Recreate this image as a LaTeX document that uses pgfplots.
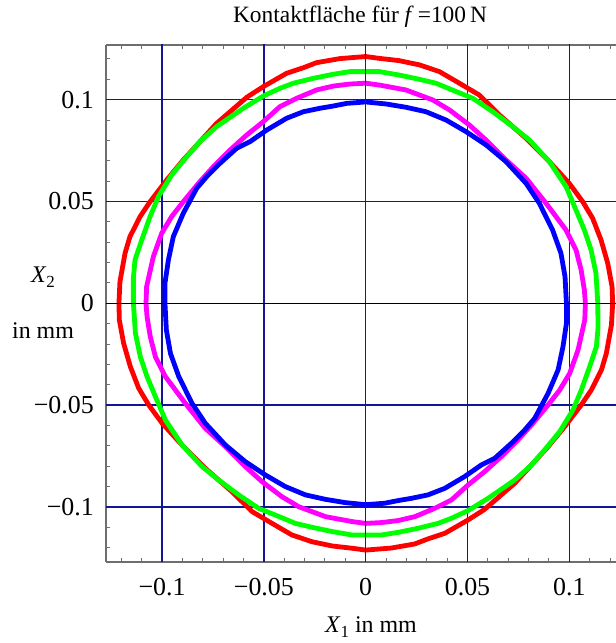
\documentclass[border=0pt]{standalone}
\usepackage{fontspec}
\setmainfont{Liberation Serif}
\usepackage{pgfplots}
\pgfplotsset{compat=1.18}
\definecolor{gridnavy}{RGB}{20,20,150}
\definecolor{framegray}{RGB}{110,110,110}
\definecolor{mred}{RGB}{255,0,0}
\definecolor{mgreen}{RGB}{0,255,0}
\definecolor{mmag}{RGB}{255,0,255}
\definecolor{mblue}{RGB}{0,0,255}
\begin{document}
\begin{tikzpicture}
\useasboundingbox (0,0) rectangle (616bp,643bp);
\begin{axis}[
  at={(106bp,81bp)}, anchor=south west,
  width=510bp, height=517bp, scale only axis,
  xmin=-0.12755, xmax=0.12294, ymin=-0.12706, ymax=0.12687,
  axis x line*=box, axis y line*=left,
  xtick={-0.1,-0.05,0,0.05,0.1},
  xticklabels={−0.1,−0.05,0,0.05,0.1},
  ytick={-0.1,-0.05,0,0.05,0.1},
  yticklabels={−0.1,−0.05,0,0.05,0.1},
  minor xtick={-0.12,-0.11,-0.09,-0.08,-0.07,-0.06,-0.04,-0.03,-0.02,-0.01,0.01,0.02,0.03,0.04,0.06,0.07,0.08,0.09,0.11,0.12},
  minor ytick={-0.12,-0.11,-0.09,-0.08,-0.07,-0.06,-0.04,-0.03,-0.02,-0.01,0.01,0.02,0.03,0.04,0.06,0.07,0.08,0.09,0.11,0.12},
  tick align=inside,
  major tick length=7bp, minor tick length=4bp,
  tick style={framegray, line width=1bp},
  axis line style={framegray, line width=1.3bp},
  tick label style={font=\fontsize{26}{26}\selectfont},
  xticklabel style={anchor=base, inner sep=0pt, yshift=-34bp},
  yticklabel style={anchor=east, inner sep=0pt, xshift=-12bp},
]
% grid lines
\draw[gridnavy, line width=1.4bp] (axis cs:-0.1,-0.2) -- (axis cs:-0.1,0.2);
\draw[gridnavy, line width=1.4bp] (axis cs:-0.05,-0.2) -- (axis cs:-0.05,0.2);
\draw[gridnavy, line width=1.4bp] (axis cs:0.05,-0.2) -- (axis cs:0.05,0.2);
\draw[gridnavy, line width=1.4bp] (axis cs:0.1,-0.2) -- (axis cs:0.1,0.2);
\draw[gridnavy, line width=1.4bp] (axis cs:-0.2,-0.1) -- (axis cs:0.2,-0.1);
\draw[gridnavy, line width=1.4bp] (axis cs:-0.2,-0.05) -- (axis cs:0.2,-0.05);
\draw[gridnavy, line width=1.4bp] (axis cs:-0.2,0.05) -- (axis cs:0.2,0.05);
\draw[gridnavy, line width=1.4bp] (axis cs:-0.2,0.1) -- (axis cs:0.2,0.1);
% red
\addplot[mred, line width=4.8bp, line join=round] coordinates {
(0.1213,0) (0.1210,0.0082) (0.1189,0.0196) (0.1156,0.0311) (0.1115,0.0417) (0.1066,0.0499) (0.1000,0.0589) (0.0902,0.0696) (0.0788,0.0810) (0.0657,0.0925) (0.0558,0.1023) (0.0460,0.1081) (0.0362,0.1138) (0.0264,0.1171) (0.0164,0.1192) (0.0067,0.1203) (0,0.1212)
(-0.0126,0.1202) (-0.0241,0.1182) (-0.0306,0.1157) (-0.0388,0.1130) (-0.0503,0.1064) (-0.0584,0.1012) (-0.0666,0.0941) (-0.0732,0.0884) (-0.0814,0.0794) (-0.0896,0.0704) (-0.0977,0.0606) (-0.1059,0.0499) (-0.1108,0.0426) (-0.1158,0.0327) (-0.1182,0.0246) (-0.1207,0.0106) (-0.1212,0)
(-0.1210,-0.0082) (-0.1189,-0.0196) (-0.1156,-0.0311) (-0.1115,-0.0417) (-0.1066,-0.0499) (-0.1000,-0.0589) (-0.0902,-0.0696) (-0.0788,-0.0810) (-0.0657,-0.0925) (-0.0558,-0.1023) (-0.0460,-0.1081) (-0.0362,-0.1138) (-0.0264,-0.1171) (-0.0164,-0.1192) (-0.0067,-0.1203) (0,-0.1212)
(0.0126,-0.1202) (0.0241,-0.1182) (0.0306,-0.1157) (0.0388,-0.1130) (0.0503,-0.1064) (0.0584,-0.1012) (0.0666,-0.0941) (0.0732,-0.0884) (0.0814,-0.0794) (0.0896,-0.0704) (0.0977,-0.0606) (0.1059,-0.0499) (0.1108,-0.0426) (0.1158,-0.0327) (0.1182,-0.0246) (0.1207,-0.0106) (0.1213,0)
};
% green
\addplot[mgreen, line width=4.8bp, line join=round] coordinates {
(0.1140,0) (0.1131,0.0147) (0.1107,0.0262) (0.1074,0.0360) (0.1033,0.0458) (0.0984,0.0573) (0.0902,0.0696) (0.0804,0.0802) (0.0722,0.0868) (0.0624,0.0941) (0.0526,0.1007) (0.0444,0.1040) (0.0345,0.1081) (0.0264,0.1100) (0.0165,0.1121) (0.0067,0.1138) (0,0.1138)
(-0.0077,0.1138) (-0.0159,0.1125) (-0.0257,0.1105) (-0.0355,0.1081) (-0.0421,0.1056) (-0.0503,0.1018) (-0.0601,0.0958) (-0.0732,0.0868) (-0.0814,0.0794) (-0.0879,0.0720) (-0.0953,0.0630) (-0.1018,0.0524) (-0.1059,0.0426) (-0.1100,0.0311) (-0.1133,0.0213) (-0.1141,0.0123) (-0.1141,0)
(-0.1131,-0.0147) (-0.1107,-0.0262) (-0.1074,-0.0360) (-0.1033,-0.0458) (-0.0984,-0.0573) (-0.0902,-0.0696) (-0.0804,-0.0802) (-0.0722,-0.0868) (-0.0624,-0.0941) (-0.0526,-0.1007) (-0.0444,-0.1040) (-0.0345,-0.1081) (-0.0264,-0.1100) (-0.0165,-0.1121) (-0.0067,-0.1138) (0,-0.1138)
(0.0077,-0.1138) (0.0159,-0.1125) (0.0257,-0.1105) (0.0355,-0.1081) (0.0421,-0.1056) (0.0503,-0.1018) (0.0601,-0.0958) (0.0732,-0.0868) (0.0814,-0.0794) (0.0879,-0.0720) (0.0953,-0.0630) (0.1018,-0.0524) (0.1059,-0.0426) (0.1100,-0.0311) (0.1133,-0.0213) (0.1141,-0.0123) (0.1140,0)
};
% magenta
\addplot[mmag, line width=4.8bp, line join=round] coordinates {
(0.1079,0) (0.1074,0.0065) (0.1058,0.0164) (0.1033,0.0262) (0.0984,0.0360) (0.0886,0.0491) (0.0788,0.0614) (0.0689,0.0704) (0.0591,0.0802) (0.0509,0.0876) (0.0411,0.0950) (0.0329,0.0999) (0.0197,0.1048) (0.0067,0.1072) (0,0.1081)
(-0.0077,0.1077) (-0.0159,0.1067) (-0.0241,0.1048) (-0.0339,0.1007) (-0.0421,0.0966) (-0.0503,0.0892) (-0.0584,0.0827) (-0.0666,0.0753) (-0.0748,0.0671) (-0.0814,0.0598) (-0.0896,0.0499) (-0.0953,0.0426) (-0.1002,0.0344) (-0.1043,0.0229) (-0.1076,0.0082) (-0.1079,0)
(-0.1074,-0.0065) (-0.1058,-0.0164) (-0.1033,-0.0262) (-0.0984,-0.0360) (-0.0886,-0.0491) (-0.0788,-0.0614) (-0.0689,-0.0704) (-0.0591,-0.0802) (-0.0509,-0.0876) (-0.0411,-0.0950) (-0.0329,-0.0999) (-0.0197,-0.1048) (-0.0067,-0.1072) (0,-0.1081)
(0.0077,-0.1077) (0.0159,-0.1067) (0.0241,-0.1048) (0.0339,-0.1007) (0.0421,-0.0966) (0.0503,-0.0892) (0.0584,-0.0827) (0.0666,-0.0753) (0.0748,-0.0671) (0.0814,-0.0598) (0.0896,-0.0499) (0.0953,-0.0426) (0.1002,-0.0344) (0.1043,-0.0229) (0.1076,-0.0082) (0.1079,0)
};
% blue
\addplot[mblue, line width=4.8bp, line join=round] coordinates {
(0.0986,0) (0.0979,0.0131) (0.0959,0.0246) (0.0918,0.0360) (0.0853,0.0491) (0.0788,0.0589) (0.0689,0.0696) (0.0591,0.0778) (0.0493,0.0843) (0.0395,0.0900) (0.0296,0.0941) (0.0197,0.0963) (0.0100,0.0979) (0,0.0989)
(-0.0093,0.0982) (-0.0159,0.0969) (-0.0224,0.0958) (-0.0306,0.0941) (-0.0388,0.0909) (-0.0486,0.0851) (-0.0568,0.0794) (-0.0634,0.0761) (-0.0715,0.0688) (-0.0781,0.0622) (-0.0830,0.0565) (-0.0896,0.0442) (-0.0945,0.0327) (-0.0969,0.0213) (-0.0986,0.0098) (-0.0986,0)
(-0.0979,-0.0131) (-0.0959,-0.0246) (-0.0918,-0.0360) (-0.0853,-0.0491) (-0.0788,-0.0589) (-0.0689,-0.0696) (-0.0591,-0.0778) (-0.0493,-0.0843) (-0.0395,-0.0900) (-0.0296,-0.0941) (-0.0197,-0.0963) (-0.0100,-0.0979) (0,-0.0989)
(0.0093,-0.0982) (0.0159,-0.0969) (0.0224,-0.0958) (0.0306,-0.0941) (0.0388,-0.0909) (0.0486,-0.0851) (0.0568,-0.0794) (0.0634,-0.0761) (0.0715,-0.0688) (0.0781,-0.0622) (0.0830,-0.0565) (0.0896,-0.0442) (0.0945,-0.0327) (0.0969,-0.0213) (0.0986,-0.0098) (0.0986,0)
};
% axes through the origin (drawn over the curves)
\draw[color={rgb,255:red,35;green,35;blue,70}, line width=1.3bp] (axis cs:0,-0.13) -- (axis cs:0,0.13);
\draw[black, line width=1.3bp] (axis cs:-0.13,0) -- (axis cs:0.13,0);
\end{axis}
\node[anchor=base, font=\fontsize{23.5}{24}\selectfont] at (360bp,620bp) {Kontaktfläche für \textit{f}\,=100\,N};
\node[anchor=base, font=\fontsize{24}{24}\selectfont] at (371bp,11bp) {\textit{X}\raisebox{-0.22em}{\fontsize{17}{17}\selectfont 1} in mm};
\node[font=\fontsize{24}{24}\selectfont] at (43bp,366bp) {\textit{X}\raisebox{-0.22em}{\fontsize{17}{17}\selectfont 2}};
\node[font=\fontsize{24}{24}\selectfont] at (43bp,312bp) {in mm};
\end{tikzpicture}
\end{document}
